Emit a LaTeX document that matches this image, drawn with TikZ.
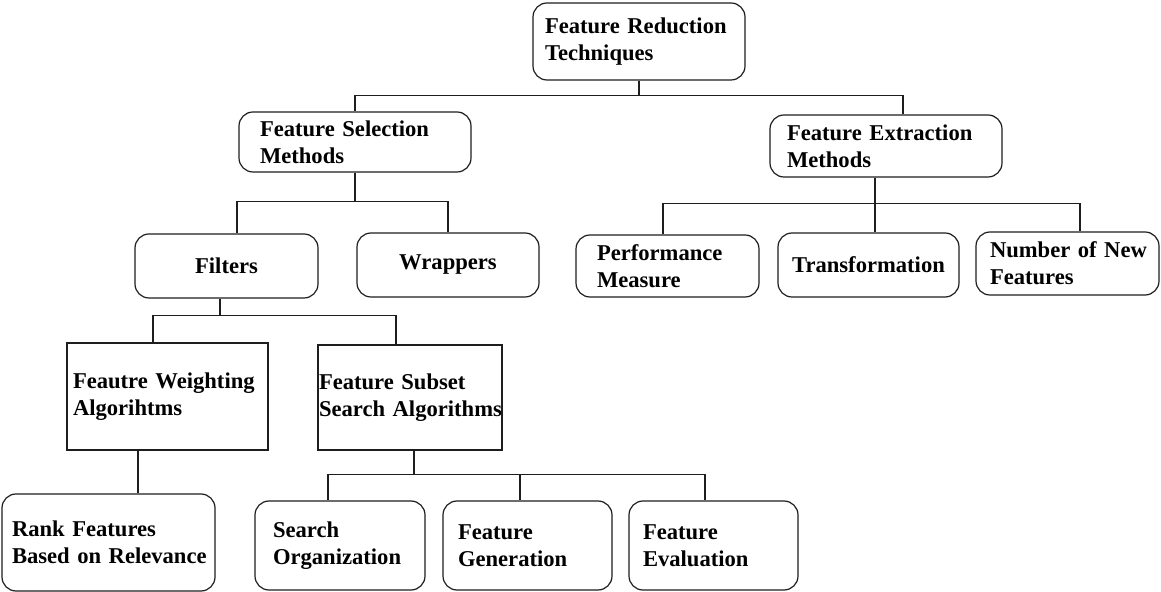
\documentclass[tikz,border=0pt]{standalone}
\usepackage{fontspec}
\setmainfont{Liberation Serif}
\usetikzlibrary{positioning,calc}
\definecolor{ink}{HTML}{1E1E1E}
\tikzset{
  every node/.style={font=\fontsize{11.3}{13.4}\selectfont\bfseries},
  % --- nodes
  box/.style  = {draw=ink, line width=0.6pt, align=left, inner ysep=0pt, text=black},
  rbox/.style = {box, rounded corners=7pt},
  cbox/.style = {rbox, align=center},
  % --- edges
  e/.style    = {draw=ink, line width=0.6pt},
}
\begin{document}
\begin{tikzpicture}[x=0.5pt,y=-0.5pt]
  \fill[white] (0,0) rectangle (1161,592);
  \useasboundingbox (0,0) rectangle (1161,592);
  % top
  \node[rbox, text width=94pt, inner xsep=6pt, minimum height=38.5pt] (root) at (639,41.5) {\mbox{Feature Reduction}\\Techniques};
  \node[rbox, text width=95pt, inner xsep=10.5pt, minimum height=30pt] (sel) at (355,142) {\mbox{Feature Selection}\\Methods};
  \node[rbox, text width=99pt, inner xsep=8.5pt, minimum height=31pt] (ext) at (886,146) {\mbox{Feature Extraction}\\Methods};
  % second row
  \node[cbox, minimum width=91.5pt, minimum height=32pt] (filt) at (226.5,266) {Filters};
  \node[cbox, minimum width=91pt, minimum height=32pt] (wrap) at (448,265) {Wrappers};
  \node[rbox, text width=70.5pt, inner xsep=10.5pt, minimum height=31pt] (perf) at (667.5,266) {Performance\\Measure};
  \node[cbox, minimum width=90.5pt, minimum height=32pt] (trans) at (868.5,265) {Transformation};
  \node[rbox, text width=77.5pt, inner xsep=7pt, minimum height=31.5pt] (newf) at (1067.5,263.5) {\mbox{Number of New}\\Features};
  % algorithms
  \node[box, text width=94.5pt, inner xsep=3pt, minimum height=53.5pt] (weight) at (167.5,396.5) {\mbox{Feautre Weighting}\\Algorihtms};
  \node[box, text width=91pt, inner xsep=0.5pt, minimum height=52.5pt] (subset) at (410,397.5) {\mbox{Feature Subset}\\\mbox{Search Algorithms}};
  % bottom row
  \node[rbox, text width=96.5pt, inner xsep=5pt, minimum height=48.5pt] (rank) at (108.5,542.5) {\mbox{Rank Features}\\\mbox{Based on Relevance}};
  \node[rbox, text width=67pt, inner xsep=9pt, minimum height=44.5pt] (sorg) at (340,545.5) {Search\\Organization};
  \node[rbox, text width=69.5pt, inner xsep=7.5pt, minimum height=44.5pt] (fgen) at (527.5,545.5) {Feature\\Generation};
  \node[rbox, text width=70.5pt, inner xsep=7pt, minimum height=44.5pt] (feval) at (713.5,545.5) {Feature\\Evaluation};
  % connectors
  \draw[e] (root.south) -- ++(0,15) -| (sel.north);
  \draw[e] (root.south) -- ++(0,15) -| ([xshift=8.5pt]ext.north);
  \draw[e] (sel.south) -- ++(0,29) -| ([xshift=5.25pt]filt.north);
  \draw[e] (sel.south) -- ++(0,29) -| (wrap.north);
  \draw[e] ([xshift=-5.5pt]ext.south) -- ++(0,26) -| ([xshift=-2.25pt]perf.north);
  \draw[e] ([xshift=-5.5pt]ext.south) -- ++(0,26) -| ([xshift=3.25pt]trans.north);
  \draw[e] ([xshift=-5.5pt]ext.south) -- ++(0,26) -| ([xshift=6.25pt]newf.north);
  \draw[e] ([xshift=-3.25pt]filt.south) -- ++(0,17) -| ([xshift=-7.25pt]weight.north);
  \draw[e] ([xshift=-3.25pt]filt.south) -- ++(0,17) -| ([xshift=-7pt]subset.north);
  \draw[e] ([xshift=-14.75pt]weight.south) -- ([xshift=14.75pt]rank.north);
  \draw[e] ([xshift=2pt]subset.south) -- ++(0,24) -| ([xshift=-6pt]sorg.north);
  \draw[e] ([xshift=2pt]subset.south) -- ++(0,24) -| ([xshift=-3.75pt]fgen.north);
  \draw[e] ([xshift=2pt]subset.south) -- ++(0,24) -| ([xshift=-4.25pt]feval.north);
\end{tikzpicture}
\end{document}
